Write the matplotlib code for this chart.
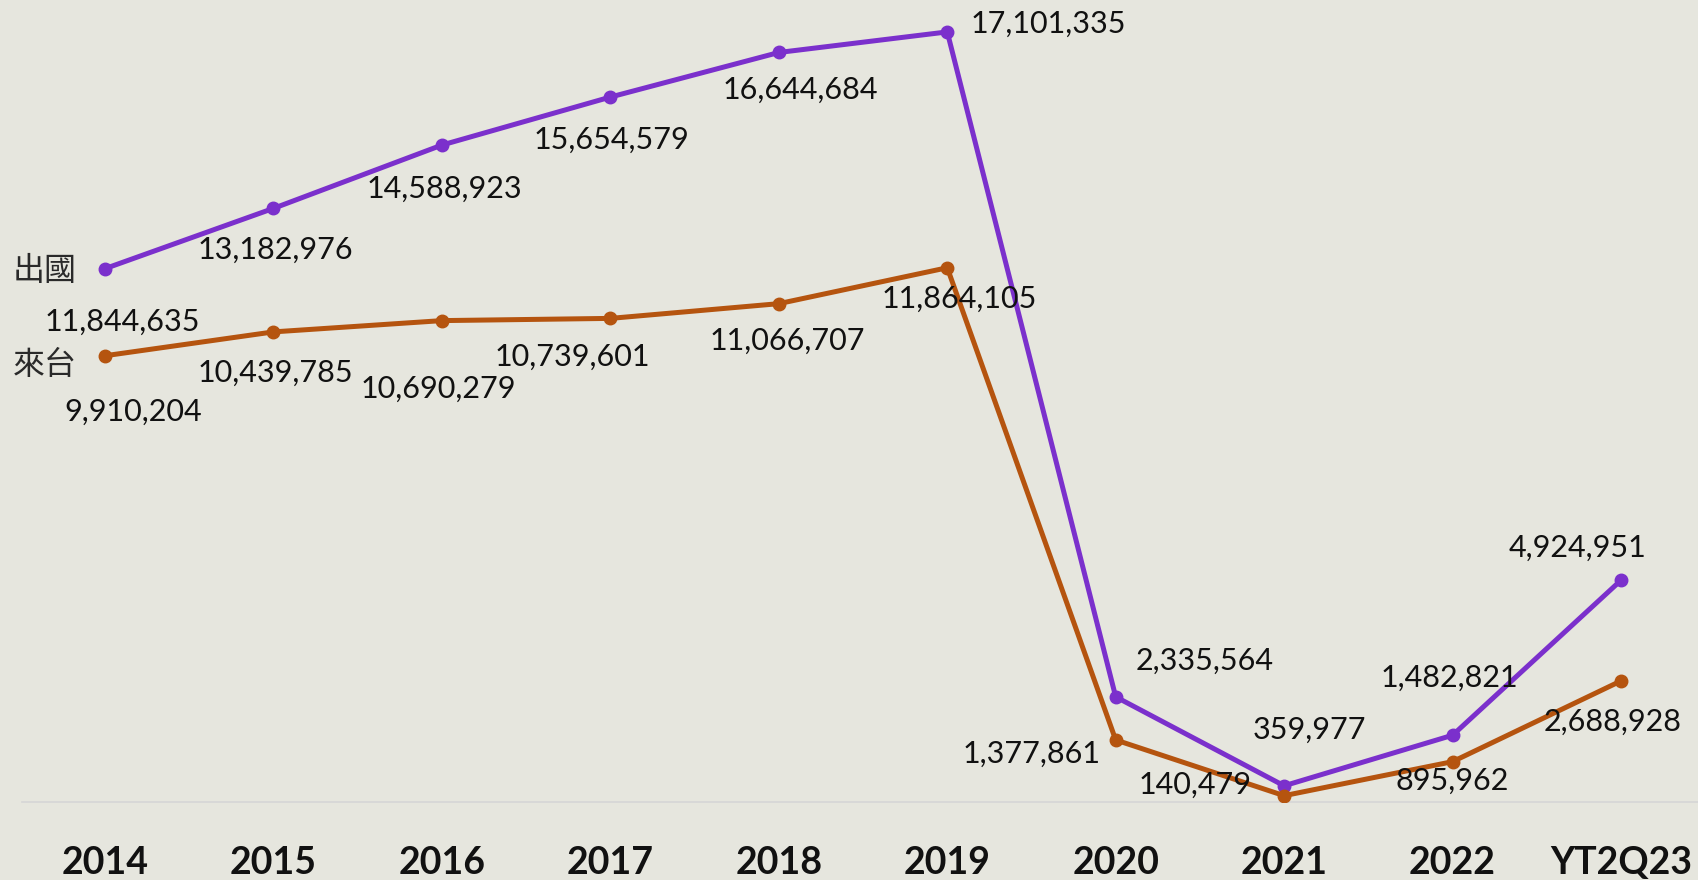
import matplotlib.pyplot as plt

# data
years = ["2014", "2015", "2016", "2017", "2018", "2019", "2020", "2021", "2022", "YT2Q23"]
outbound = [11844635, 13182976, 14588923, 15654579, 16644684, 17101335, 2335564, 359977, 1482821, 4924951]
inbound = [9910204, 10439785, 10690279, 10739601, 11066707, 11864105, 1377861, 140479, 895962, 2688928]

# label offsets (pixels) for each point
out_off = [(17, -53), (2, -41), (2, -44), (1, -43), (22, -37), (101, 8), (89, 36), (25, 56), (-3, 57), (-43, 32)]
in_off = [(28, -56), (2, -41), (-4, -68), (-38, -38), (9, -37), (12, -31), (-84, -14), (-89, 11), (0, -19), (-8, -41)]

purple = "#7b30cc"
orange = "#b5540f"
bg = "#e6e6de"

plt.rcParams['font.family'] = ['Lato', 'Noto Sans CJK TC', 'DejaVu Sans']

fig = plt.figure(figsize=(16.98, 8.8), dpi=100, facecolor=bg)
ax = fig.add_axes([22 / 1698, 78 / 880, 1 - 22 / 1698, 802 / 880])
ax.set_facecolor(bg)

x = list(range(len(years)))
ax.plot(x, outbound, color=purple, lw=3.6, marker="o", ms=9, zorder=3)
ax.plot(x, inbound, color=orange, lw=3.6, marker="o", ms=9, zorder=3)

for i in x:
    ax.annotate(f"{outbound[i]:,}", (i, outbound[i]), xytext=out_off[i], textcoords="offset pixels",
                ha="center", va="center", fontsize=22, color="#111111")
    ax.annotate(f"{inbound[i]:,}", (i, inbound[i]), xytext=in_off[i], textcoords="offset pixels",
                ha="center", va="center", fontsize=22, color="#111111")

# series names
ax.annotate("出國", (0, outbound[0]), xytext=(-60, -2), textcoords="offset pixels",
            ha="center", va="center", fontsize=23, color="#2a2a2a")
ax.annotate("來台", (0, inbound[0]), xytext=(-60, -9), textcoords="offset pixels",
            ha="center", va="center", fontsize=23, color="#2a2a2a")

ax.set_xlim(-0.493, 9.457)
ax.set_ylim(0, 17.81e6)
ax.set_xticks(x)
ax.set_xticklabels(years, fontsize=27, color="#111111", fontweight="bold")
ax.tick_params(axis="x", length=0, pad=32)
ax.set_yticks([])
for s in ["top", "right", "left"]:
    ax.spines[s].set_visible(False)
ax.spines["bottom"].set_color("#d6d6d6")
ax.spines["bottom"].set_linewidth(1.2)

fig.savefig("out.png", dpi=100, facecolor=bg)
